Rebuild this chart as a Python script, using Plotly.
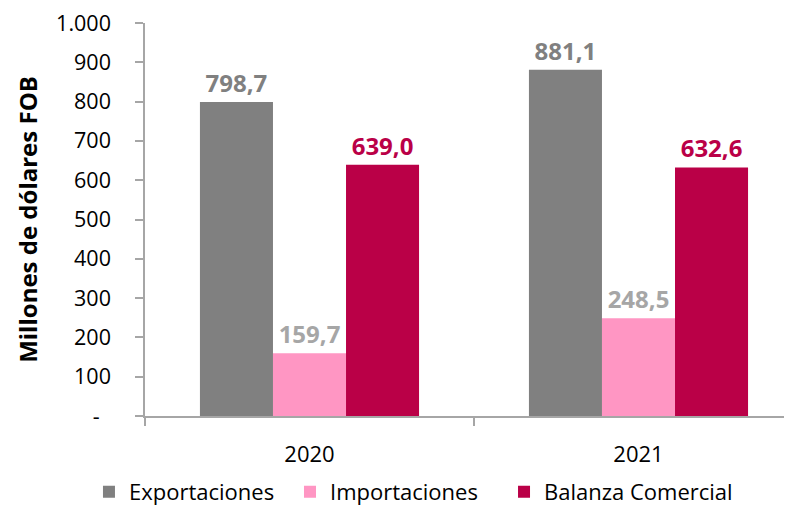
import plotly.graph_objects as go

years = ["2020", "2021"]
exportaciones = [798.7, 881.1]
importaciones = [159.7, 248.5]
balanza = [639.0, 632.6]

series_names = ["Exportaciones", "Importaciones", "Balanza Comercial"]
bar_colors = ["#808080", "#FF96C3", "#BA0047"]
label_colors = ["#808080", "#A6A6A6", "#BA0047"]
legend_ids = ["legend", "legend2", "legend3"]
legend_x = [-0.0866, 0.2241, 0.5549]

y_tickvals = [0, 100, 200, 300, 400, 500, 600, 700, 800, 900, 1000]
y_ticktext = ["-\u00a0\u00a0", "100", "200", "300", "400", "500", "600", "700", "800", "900", "1.000"]

def fmt(v):
    return f"{v:.1f}".replace(".", ",")

fig = go.Figure()
for name, vals, c, lc, lg in zip(series_names, [exportaciones, importaciones, balanza],
                                  bar_colors, label_colors, legend_ids):
    fig.add_trace(go.Bar(
        x=years, y=vals, name=name, legend=lg,
        marker=dict(color=c, line=dict(width=0)),
        text=[fmt(v) for v in vals],
        textposition="outside",
        textfont=dict(family="Open Sans", size=24, color=lc, weight="bold"),
        cliponaxis=False,
    ))

legend_common = dict(
    orientation="h", xanchor="left", y=-0.193, yanchor="middle",
    font=dict(family="Open Sans", size=22, color="#000000"),
    itemclick=False, bgcolor="rgba(0,0,0,0)",
)

fig.update_layout(
    width=784, height=520,
    margin=dict(l=137, r=0, t=15, b=112),
    paper_bgcolor="white", plot_bgcolor="white",
    barmode="group", bargap=0.334, bargroupgap=0,
    font=dict(family="Open Sans", size=22, color="#000000"),
    showlegend=True,
    legend=dict(x=legend_x[0], **legend_common),
    legend2=dict(x=legend_x[1], **legend_common),
    legend3=dict(x=legend_x[2], **legend_common),
    xaxis=dict(
        type="category", range=[-0.5, 1.4666], automargin=False,
        showline=True, linecolor="#A6A6A6", linewidth=1.5,
        ticks="outside", tickson="boundaries", ticklen=8, tickcolor="#A6A6A6", tickwidth=1.5,
        tickfont=dict(family="Open Sans", size=22, color="#000000"),
        ticklabelstandoff=18, ticklabeloverflow="allow",
        showgrid=False, zeroline=False,
    ),
    yaxis=dict(
        range=[0, 1000], automargin=False,
        tickvals=y_tickvals, ticktext=y_ticktext,
        showline=True, linecolor="#A6A6A6", linewidth=1.5,
        ticks="outside", ticklen=8, tickcolor="#A6A6A6", tickwidth=1.5,
        tickfont=dict(family="Open Sans", size=21.5, color="#000000"),
        ticklabelstandoff=20, ticklabeloverflow="allow",
        showgrid=False, zeroline=False,
        title=dict(text="Millones de dólares FOB", standoff=12,
                   font=dict(family="Open Sans", size=24, color="#000000", weight="bold")),
    ),
)

fig.write_html("out.html")
